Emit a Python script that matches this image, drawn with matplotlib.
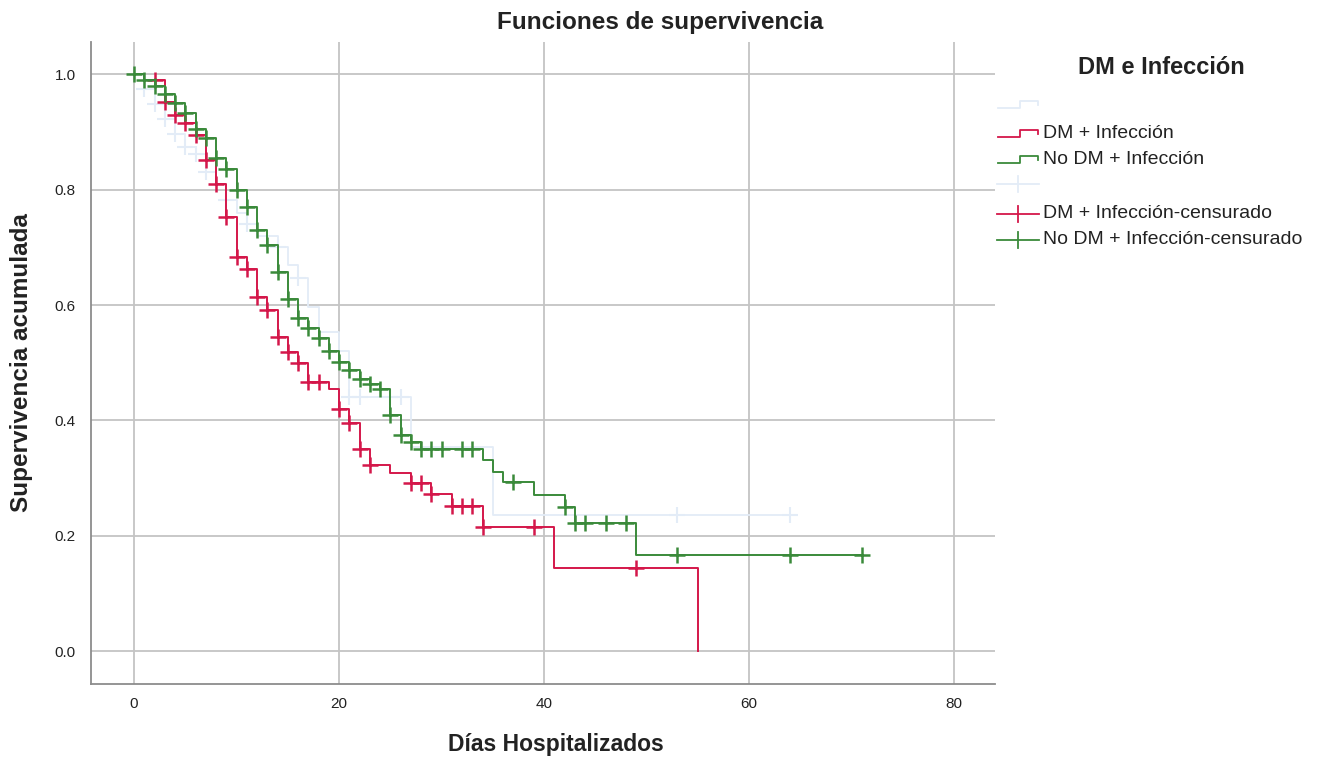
import numpy as np
import matplotlib
matplotlib.use("Agg")
import matplotlib.pyplot as plt
from matplotlib.lines import Line2D

plt.rcParams['font.family'] = ['Liberation Sans', 'DejaVu Sans']

# ---------------- data ----------------
# DM + Infección (red)
red_event_days = [1, 3, 4, 5, 6, 7, 8, 9, 10, 11, 12, 13, 14, 15, 16, 17, 19, 20,
                  21, 22, 23, 25, 27, 29, 31, 34, 41, 55]
red_surv = [0.99, 0.952, 0.929, 0.915, 0.894, 0.851, 0.81, 0.753, 0.683, 0.663,
            0.614, 0.591, 0.545, 0.519, 0.499, 0.467, 0.455, 0.419, 0.395, 0.351,
            0.322, 0.308, 0.292, 0.272, 0.251, 0.215, 0.144, 0.0]
red_censor_days = [2, 3, 4, 5, 6, 7, 8, 9, 10, 11, 12, 13, 14, 15, 16, 17, 18, 20,
                   21, 22, 23, 27, 28, 29, 31, 32, 33, 34, 39, 49]
red_end = 55

# No DM + Infección (green)
green_event_days = [1, 2, 3, 4, 5, 6, 7, 8, 9, 10, 11, 12, 13, 14, 15, 16, 17, 18,
                    19, 20, 21, 22, 23, 24, 25, 26, 27, 28, 34, 35, 36, 39, 42, 43, 49]
green_surv = [0.99, 0.979, 0.966, 0.95, 0.933, 0.906, 0.889, 0.855, 0.835, 0.80,
              0.77, 0.73, 0.704, 0.658, 0.61, 0.577, 0.561, 0.542, 0.521, 0.501,
              0.487, 0.472, 0.463, 0.454, 0.409, 0.375, 0.362, 0.35, 0.331, 0.311,
              0.293, 0.27, 0.25, 0.222, 0.166]
green_censor_days = [0, 1, 2, 3, 4, 5, 6, 7, 8, 9, 10, 11, 12, 13, 14, 15, 16, 17,
                     18, 19, 20, 21, 22, 23, 24, 25, 26, 27, 28, 29, 30, 32, 33, 37,
                     42, 43, 44, 46, 48, 53, 64, 71]
green_end = 71

# third group (unlabelled, very pale blue)
pale_event_days = [1, 2, 3, 4, 5, 6, 7, 8, 9, 10, 11, 12, 14, 15, 16, 17, 18, 20,
                   21, 27, 35]
pale_surv = [0.975, 0.949, 0.923, 0.897, 0.874, 0.862, 0.831, 0.81, 0.782, 0.76,
             0.741, 0.72, 0.70, 0.669, 0.646, 0.597, 0.553, 0.52, 0.44, 0.354, 0.236]
pale_censor_days = [1, 2, 3, 4, 5, 6, 7, 9, 11, 14, 16, 21, 22, 25, 26, 53, 64]
pale_end = 64

x_ticks = [0, 20, 40, 60, 80]
y_ticks = [0.0, 0.2, 0.4, 0.6, 0.8, 1.0]

legend_title = "DM e Infección"
legend_labels = ["", "DM + Infección", "No DM + Infección", "",
                 "DM + Infección-censurado", "No DM + Infección-censurado"]

RED = "#d4174a"
GREEN = "#3a8a3a"
PALE = "#e3ecf7"
TXT = "#222222"

# ---------------- figure ----------------
W, H = 1328, 765
fig = plt.figure(figsize=(W / 100, H / 100), dpi=100)
ax = fig.add_axes([91 / W, 1 - 684 / H, (995 - 91) / W, (684 - 42) / H])


def surv_at(days, events, surv):
    idx = np.searchsorted(events, days, side='right') - 1
    s = np.where(idx >= 0, np.asarray(surv)[np.clip(idx, 0, None)], 1.0)
    return s


def draw_group(events, surv, censors, end, color, lw, mew, z):
    xs = [0] + list(events) + [end]
    ys = [1.0] + list(surv) + [surv[-1]]
    ax.step(xs, ys, where='post', color=color, lw=lw, zorder=z)
    cy = surv_at(np.array(censors), np.array(events), surv)
    ax.plot(censors, cy, linestyle='none', marker='+', markersize=12,
            markeredgewidth=mew, color=color, zorder=z + 0.1)


draw_group(pale_event_days, pale_surv, pale_censor_days, pale_end, PALE, 1.3, 1.5, 3)
draw_group(red_event_days, red_surv, red_censor_days, red_end, RED, 1.4, 1.8, 4)
draw_group(green_event_days, green_surv, green_censor_days, green_end, GREEN, 1.4, 1.8, 5)

ax.set_xlim(-4.2, 84)
ax.set_ylim(-0.057, 1.056)
ax.set_xticks(x_ticks)
ax.set_xticklabels([str(v) for v in x_ticks])
ax.set_yticks(y_ticks)
ax.set_yticklabels([f"{v:.1f}" for v in y_ticks])
ax.tick_params(length=0, labelsize=11, colors=TXT)
ax.tick_params(axis='x', pad=9)
ax.tick_params(axis='y', pad=11)
ax.grid(True, color='#c4c4c4', lw=1.3, zorder=0)
ax.set_axisbelow(True)
for s in ['top', 'right']:
    ax.spines[s].set_visible(False)
for s in ['left', 'bottom']:
    ax.spines[s].set_color('#8c8c8c')
    ax.spines[s].set_linewidth(1.3)


def P(x, y):
    return x / W, 1 - y / H


fig.text(*P(556, 745), "Días Hospitalizados", ha='center', va='center',
         fontsize=16.5, fontweight='bold', color=TXT)
fig.text(*P(22, 363), "Supervivencia acumulada", ha='center', va='center',
         rotation=90, fontsize=17.5, fontweight='bold', color=TXT)
fig.text(*P(660, 22), "Funciones de supervivencia", ha='center',
         va='center', fontsize=17.5, fontweight='bold', color=TXT)

# ---------------- legend (drawn manually in figure pixels) ----------------
def step_icon(yc, color):
    pts = [(998, yc + 4), (1020, yc + 4), (1020, yc - 3), (1038, yc - 3), (1038, yc + 1)]
    xs, ys = zip(*[P(a, b) for a, b in pts])
    fig.add_artist(Line2D(xs, ys, color=color, lw=1.3, transform=fig.transFigure))


def censor_icon(yc, color):
    xs, ys = zip(*[P(997, yc), P(1039, yc)])
    fig.add_artist(Line2D(xs, ys, color=color, lw=1.3, transform=fig.transFigure))
    xs, ys = zip(*[P(1018, yc - 8), P(1018, yc + 8)])
    fig.add_artist(Line2D(xs, ys, color=color, lw=1.3, transform=fig.transFigure))


fig.text(*P(1161, 67), legend_title, ha='center', va='center', fontsize=17,
         fontweight='bold', color=TXT)
rows_y = [104, 133, 159, 184, 214, 240]
icon_colors = [PALE, RED, GREEN, PALE, RED, GREEN]
for i, (yc, lab, col) in enumerate(zip(rows_y, legend_labels, icon_colors)):
    if i < 3:
        step_icon(yc, col)
    else:
        censor_icon(yc, col)
    if lab:
        fig.text(*P(1043, yc), lab, ha='left', va='center', fontsize=14, color=TXT)

fig.savefig("out.png", dpi=100)
